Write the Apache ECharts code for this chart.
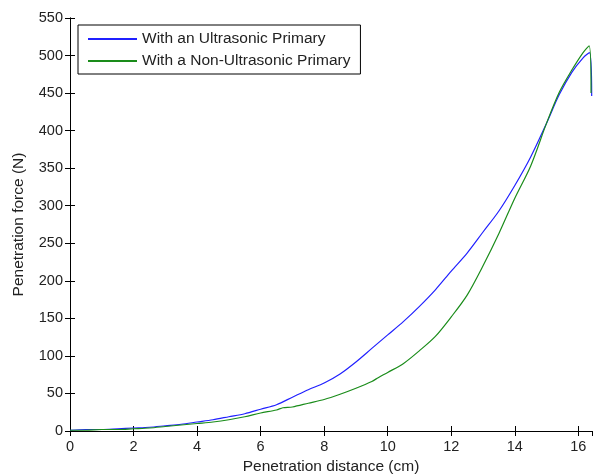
<!DOCTYPE html>
<html>
<head>
<meta charset="utf-8">
<script src="https://cdn.jsdelivr.net/npm/echarts@6/dist/echarts.min.js"></script>
<style>
  html, body { margin: 0; padding: 0; background: #fff; }
  #chart { width: 593px; height: 475px; }
</style>
</head>
<body>
<div id="chart"></div>
<script>
// penetration distance (cm) / force (N)
var ultrasonic = [
  [0, 1], [0.5, 2], [1, 2], [1.5, 3], [2, 4], [2.5, 5], [3, 7], [3.5, 9],
  [4, 12], [4.5, 15], [5, 19], [5.5, 23], [6, 29], [6.5, 35], [7, 45],
  [7.5, 55], [8, 64], [8.5, 76], [9, 92], [9.5, 110], [10, 128], [10.5, 146],
  [11, 166], [11.5, 188], [12, 213], [12.5, 237], [13, 265], [13.5, 293],
  [14, 327], [14.5, 365], [15, 410], [15.4, 448], [15.8, 478], [16.15, 497],
  [16.35, 504], [16.42, 446]
];
var nonUltrasonic = [
  [0, 1], [0.5, 1], [1, 2], [1.5, 2], [2, 3], [2.5, 4], [3, 6], [3.5, 8],
  [4, 10], [4.5, 12], [5, 15], [5.5, 19], [6, 24], [6.5, 28], [6.7, 31],
  [7, 32], [7.5, 37], [8, 42], [8.5, 49], [9, 57], [9.5, 66], [9.7, 71],
  [10, 78], [10.5, 90], [11, 107], [11.5, 126], [12, 152], [12.5, 181],
  [13, 220], [13.5, 263], [14, 310], [14.5, 353], [15, 410], [15.4, 451],
  [15.8, 481], [16.15, 504], [16.34, 513], [16.4, 450]
];
var seriesNames = ['With an Ultrasonic Primary', 'With a Non-Ultrasonic Primary'];

var chart = echarts.init(document.getElementById('chart'));
var font = 'Liberation Sans, Arial, sans-serif';
var tickInside = { show: true, inside: true, length: 5, lineStyle: { color: '#000' } };
var lineBlack = { show: true, lineStyle: { color: '#000', width: 1 } };

chart.setOption({
  animation: false,
  textStyle: { fontFamily: font },
  grid: { left: 70, right: 1, top: 18, bottom: 44, outerBoundsMode: 'none' },
  legend: {
    orient: 'vertical',
    left: 78,
    top: 25,
    padding: [6, 10, 5, 10],
    itemGap: 6,
    itemWidth: 49,
    itemHeight: 2,
    icon: 'rect',
    backgroundColor: '#fff',
    borderColor: '#000',
    borderWidth: 1,
    textStyle: { fontSize: 15.5, color: '#222', fontFamily: font },
    data: seriesNames
  },
  xAxis: [{
    type: 'value',
    min: 0,
    max: 16.43,
    interval: 2,
    name: 'Penetration distance (cm)',
    nameLocation: 'middle',
    nameGap: 28,
    nameTextStyle: { fontSize: 15.5, color: '#222' },
    axisLine: lineBlack,
    axisTick: tickInside,
    splitLine: { show: false },
    axisLabel: { fontSize: 14.5, color: '#222', margin: 8, showMaxLabel: false }
  }, {
    type: 'value',
    position: 'top',
    min: 0,
    max: 16.43,
    interval: 2,
    axisLine: lineBlack,
    axisTick: tickInside,
    splitLine: { show: false },
    axisLabel: { show: false }
  }],
  yAxis: [{
    type: 'value',
    min: 0,
    max: 550,
    interval: 50,
    name: 'Penetration force (N)',
    nameLocation: 'middle',
    nameGap: 43,
    nameTextStyle: { fontSize: 15.5, color: '#222' },
    axisLine: lineBlack,
    axisTick: tickInside,
    splitLine: { show: false },
    axisLabel: { fontSize: 14.5, color: '#222', margin: 7 }
  }, {
    type: 'value',
    position: 'right',
    min: 0,
    max: 550,
    interval: 50,
    axisLine: lineBlack,
    axisTick: tickInside,
    splitLine: { show: false },
    axisLabel: { show: false }
  }],
  series: [{
    name: seriesNames[0],
    type: 'line',
    data: ultrasonic,
    showSymbol: false,
    smooth: 0.3,
    itemStyle: { color: '#2020ff' },
    lineStyle: { color: '#2020ff', width: 1.2 }
  }, {
    name: seriesNames[1],
    type: 'line',
    data: nonUltrasonic,
    showSymbol: false,
    smooth: 0.3,
    itemStyle: { color: '#1a8c1a' },
    lineStyle: { color: '#1a8c1a', width: 1.2 }
  }]
});
</script>
</body>
</html>
